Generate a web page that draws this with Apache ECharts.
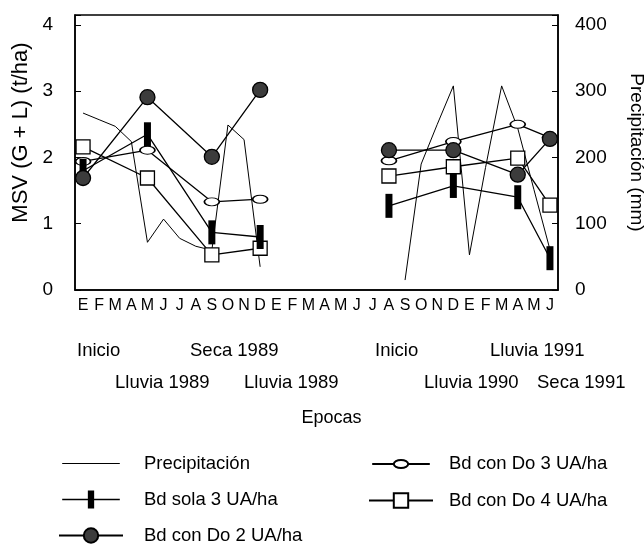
<!DOCTYPE html>
<html>
<head>
<meta charset="UTF-8">
<title>MSV y precipitacion</title>
<script type="text/javascript" src="https://cdn.jsdelivr.net/npm/echarts@6/dist/echarts.min.js"></script>
<style>
	html, body { margin: 0; padding: 0; background: #fff; }
</style>
</head>
<body>
	<div id="main" style="width: 644px;height:557px;"></div>
<script type="text/javascript">
	// meses de enero 1989 a junio 1991
	var meses = ['E-89', 'F-89', 'M-89', 'A-89', 'M-89b', 'J-89', 'J-89b', 'A-89b', 'S-89', 'O-89', 'N-89', 'D-89',
		'E-90', 'F-90', 'M-90', 'A-90', 'M-90b', 'J-90', 'J-90b', 'A-90b', 'S-90', 'O-90', 'N-90', 'D-90',
		'E-91', 'F-91', 'M-91', 'A-91', 'M-91b', 'J-91'];

	// precipitacion mensual (mm), null = sin registro
	var precipitacion = [267, 257, 247, 224, 72, 107, 78, 66, 60, 249, 227, 35,
		null, null, null, null, null, null, null, null, 15, 190, 250, 308,
		53, 185, 308, 244, 152, 61];

	// muestreos (indice del mes) y MSV (t/ha)
	var muestreos = [0, 4, 8, 11, 19, 23, 27, 29];
	var bdSola3 = [1.8, 2.35, 0.87, 0.8, 1.27, 1.57, 1.4, 0.48];
	var bdDo2 = [1.69, 2.91, 2.01, 3.02, 2.11, 2.11, 1.74, 2.28];
	var bdDo3 = [1.94, 2.11, 1.33, 1.37, 1.95, 2.24, 2.5, 2.3];
	var bdDo4 = [2.16, 1.69, 0.53, 0.63, 1.72, 1.86, 1.99, 1.28];

	// epocas bajo el eje
	var epocas = ['Inicio', 'Seca 1989', 'Inicio', 'Lluvia 1991',
		'Lluvia 1989', 'Lluvia 1989', 'Lluvia 1990', 'Seca 1991'];

	var fuente = "'Liberation Sans', Arial, sans-serif";
	var posEpocas = [[77, 350], [190, 350], [375, 350], [490, 350],
		[115, 382], [244, 382], [424, 382], [537, 382]];

	// une los puntos de cada periodo, corta entre dic-89 y ago-90
	function puntos(valores) {
		var d = [];
		for (var i = 0; i < valores.length; i++) {
			if (i > 0 && muestreos[i] - muestreos[i - 1] > 6) {
				d.push([muestreos[i - 1] + 1, null]);
			}
			d.push([muestreos[i], valores[i]]);
		}
		return d;
	}

	var iconoLinea = 'path://M0,0L0.01,0M0,9.4H64V10.6H0ZM0,20L0.01,20';
	var iconoBarra = 'path://M0,9.3H28.5V0H35.5V9.3H64V10.7H35.5V20H28.5V10.7H0Z';
	var iconoElipse = 'path://M32,0L32.01,0M0,10H24M40,10H64M24,10A8,4.5,0,1,1,40,10A8,4.5,0,1,1,24,10ZM32,20L32.01,20';
	var simboloElipse = 'path://M0,4A7.5,4,0,1,1,15,4A7.5,4,0,1,1,0,4Z';

	var myChart = echarts.init(document.getElementById('main'));

	var option = {
		backgroundColor: '#fff',
		textStyle: { fontFamily: fuente, color: '#000' },
		grid: {
			left: 75, right: 86, top: 15, bottom: 267,
			containLabel: false, outerBoundsMode: 'none',
			show: true, borderColor: '#000', borderWidth: 1.5
		},
		legend: [{
			orient: 'vertical', left: 58, top: 454, padding: 0,
			itemWidth: 64, itemHeight: 18, itemGap: 17,
			textStyle: { fontSize: 18.5, color: '#000', padding: [0, 0, 0, 16] },
			data: [{ name: 'Precipitación', icon: iconoLinea }, { name: 'Bd sola 3 UA/ha', icon: iconoBarra }, { name: 'Bd con Do 2 UA/ha' }]
		}, {
			orient: 'vertical', left: 368, top: 454, padding: 0,
			itemWidth: 64, itemHeight: 18, itemGap: 17,
			textStyle: { fontSize: 18.5, color: '#000', padding: [0, 0, 0, 11] },
			data: [{ name: 'Bd con Do 3 UA/ha', icon: iconoElipse }, { name: 'Bd con Do 4 UA/ha' }]
		}],
		xAxis: {
			type: 'category',
			data: meses,
			boundaryGap: true,
			name: 'Epocas',
			nameLocation: 'middle',
			nameGap: 119,
			nameTextStyle: { fontSize: 18, color: '#000', padding: [0, 0, 0, 30] },
			axisLine: { lineStyle: { color: '#000', width: 1.5 } },
			axisTick: { inside: true, length: 6, interval: 0, lineStyle: { color: '#000' } },
			axisLabel: {
				interval: 0, margin: 8, fontSize: 16, color: '#000',
				formatter: function (v) { return v.charAt(0); }
			},
			splitLine: { show: false }
		},
		yAxis: [{
			type: 'value',
			min: 0, max: 4.15, interval: 1,
			name: 'MSV (G + L) (t/ha)',
			nameLocation: 'middle', nameRotate: 90, nameGap: 38,
			nameTextStyle: { fontSize: 22, color: '#000', padding: [0, 0, 0, 40] },
			axisLine: { show: true, lineStyle: { color: '#000', width: 1.5 } },
			axisTick: { show: true, inside: true, length: 6, lineStyle: { color: '#000' } },
			axisLabel: {
				margin: 22, fontSize: 19, color: '#000',
				formatter: function (v) { return v % 1 === 0 ? v : ''; }
			},
			splitLine: { show: false }
		}, {
			type: 'value',
			position: 'right',
			min: 0, max: 415, interval: 100,
			name: 'Precipitación (mm)',
			nameLocation: 'middle', nameRotate: -90, nameGap: 69,
			nameTextStyle: { fontSize: 19, color: '#000' },
			axisLine: { show: true, lineStyle: { color: '#000', width: 1.5 } },
			axisTick: { show: true, inside: true, length: 6, lineStyle: { color: '#000' } },
			axisLabel: {
				margin: 17, fontSize: 19, color: '#000',
				formatter: function (v) { return v % 100 === 0 ? v : ''; }
			},
			splitLine: { show: false }
		}],
		graphic: epocas.map(function (t, i) {
			return {
				type: 'text',
				left: posEpocas[i][0],
				top: posEpocas[i][1] - 9,
				style: { text: t, font: '18.5px ' + fuente, fill: '#000' }
			};
		}),
		series: [{
			name: 'Precipitación',
			type: 'line',
			yAxisIndex: 1,
			data: precipitacion,
			symbol: 'none',
			lineStyle: { color: '#000', width: 1 },
			itemStyle: { color: '#000' }
		}, {
			name: 'Bd con Do 4 UA/ha',
			type: 'line',
			data: puntos(bdDo4),
			symbol: 'rect', symbolSize: 14,
			lineStyle: { color: '#000', width: 1.3 },
			itemStyle: { color: '#fff', borderColor: '#000', borderWidth: 1.3 }
		}, {
			name: 'Bd con Do 3 UA/ha',
			type: 'line',
			data: puntos(bdDo3),
			symbol: simboloElipse, symbolSize: [15, 8],
			lineStyle: { color: '#000', width: 1.3 },
			itemStyle: { color: '#fff', borderColor: '#000', borderWidth: 1.3 }
		}, {
			name: 'Bd sola 3 UA/ha',
			type: 'line',
			data: puntos(bdSola3),
			symbol: 'rect', symbolSize: [7, 24],
			lineStyle: { color: '#000', width: 1.3 },
			itemStyle: { color: '#000', borderWidth: 0 }
		}, {
			name: 'Bd con Do 2 UA/ha',
			type: 'line',
			data: puntos(bdDo2),
			symbol: 'circle', symbolSize: 15,
			lineStyle: { color: '#000', width: 1.3 },
			itemStyle: { color: '#3c3c3c', borderColor: '#000', borderWidth: 1.3 }
		}]
	};
	myChart.setOption(option);
</script>
</body>
</html>
